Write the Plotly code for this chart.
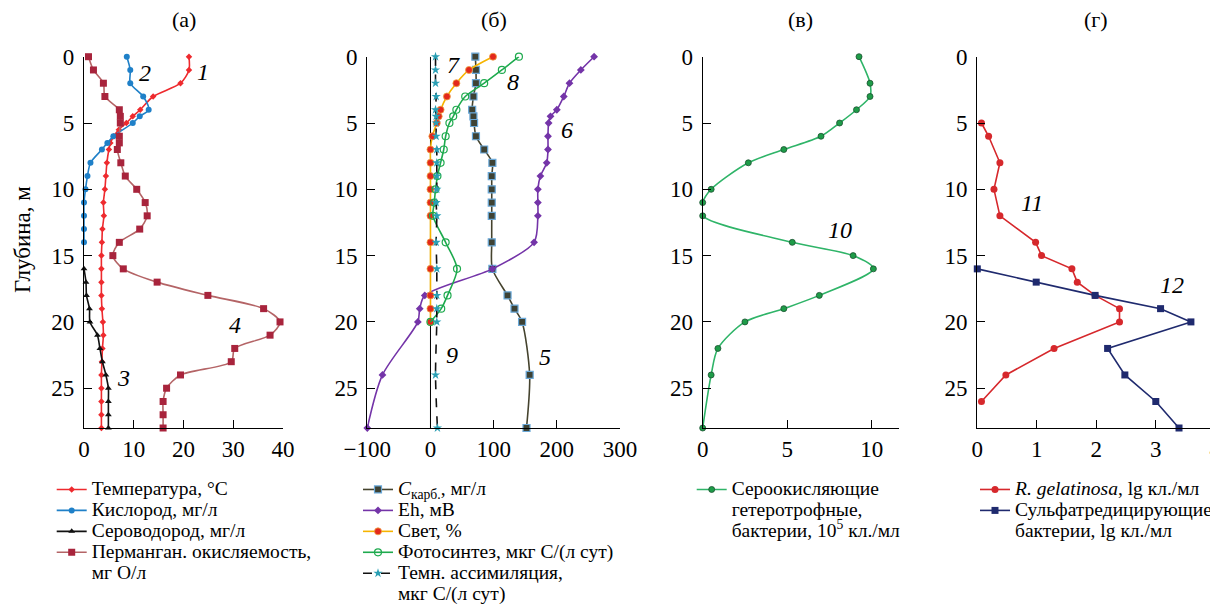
import plotly.graph_objects as go

# ---------------- data ----------------
# Panel (а)
temp_depth = [0, 1, 2, 3, 4, 4.5, 5, 5.5, 6, 6.5, 7, 8, 9, 10, 11, 12, 13, 14, 15, 16, 17, 18, 19, 20, 21, 22, 23, 24, 25, 26, 27, 28]
temp_val = [21.1, 21.1, 19.4, 13.9, 11.3, 9.8, 8.5, 7.0, 6.0, 5.3, 5.0, 4.6, 4.4, 4.2, 3.9, 4.0, 3.7, 3.6, 3.5, 3.5, 3.5, 3.5, 3.6, 3.8, 3.9, 3.7, 3.6, 3.5, 3.5, 3.5, 3.5, 3.5]

o2_depth = [0, 1, 2, 3, 4, 4.5, 5, 6, 6.5, 7, 8, 9, 10, 11, 12, 13, 14]
o2_val = [8.6, 9.3, 9.3, 11.9, 13.0, 11.2, 9.8, 5.9, 4.7, 3.6, 1.3, 0.7, 0.3, 0.0, 0.0, 0.0, 0.0]

h2s_depth = [16, 17, 18, 19, 20, 21, 22, 23, 24, 25, 26, 27, 28]
h2s_val = [0.0, 0.4, 0.5, 1.1, 1.2, 2.7, 3.2, 3.7, 4.4, 4.9, 4.9, 4.9, 4.9]

perm_depth = [0, 1, 2, 3, 4, 4.5, 5, 6, 6.5, 7, 8, 9, 10, 11, 12, 13, 14, 15, 16, 17, 18, 19, 20, 21, 22, 23, 24, 25, 26, 27, 28]
perm_val = [0.9, 1.9, 3.9, 4.2, 7.1, 7.3, 7.3, 7.1, 7.1, 6.7, 7.4, 8.3, 10.6, 12.3, 12.7, 11.2, 7.1, 5.8, 7.9, 14.7, 24.9, 36.1, 39.4, 37.4, 30.3, 29.6, 19.4, 16.6, 15.9, 15.9, 15.9]

# Panel (б)
ccarb_depth = [0, 1, 2, 3, 4, 4.5, 5, 6, 7, 8, 9, 10, 11, 12, 14, 16, 18, 19, 20, 24, 28]
ccarb_val = [71, 72, 72, 68, 66, 68, 69, 72, 85, 98, 97, 97, 97, 97, 97, 98, 122, 133, 145, 157, 152]

eh_depth = [0, 1, 2, 3, 4, 4.5, 5, 6, 7, 8, 9, 10, 11, 12, 14, 16, 18, 19, 20, 24, 28]
eh_val = [259, 238, 220, 211, 200, 190, 187, 186, 186, 184, 174, 170, 170, 170, 164, 98, -9, -17, -20, -76, -100]

light_depth = [0, 1, 2, 3, 4, 4.5, 5, 6, 7, 8, 9, 10, 11, 12, 14, 16, 18, 19, 20]
light_val = [99, 61, 41, 26, 16, 13, 10, 3, 0, 0, 0, 0, 0, 0, 0, 0, 0, 0, 0]

photo_depth = [0, 1, 2, 3, 4, 4.5, 5, 6, 7, 8, 9, 10, 11, 12, 14, 16, 18, 19, 20]
photo_val = [140, 113, 85, 55, 41, 36, 30, 24, 21, 16, 11, 8, 6, 4, 24, 42, 27, 17, 0]

dark_depth = [0, 1, 2, 3, 4, 4.5, 5, 6, 7, 8, 9, 10, 11, 12, 14, 16, 18, 19, 20, 24, 28]
dark_val = [8, 8, 8, 9, 8, 9, 9, 9, 10, 10, 10, 10, 9, 10, 9, 10, 10, 10, 10, 8, 11]

# Panel (в)
sox_depth = [0, 2, 3, 4, 5, 6, 7, 8, 10, 11, 12, 14, 15, 16, 18, 19, 20, 22, 24, 28]
sox_val = [9.25, 9.9, 9.9, 9.1, 8.1, 7.0, 4.8, 2.7, 0.5, 0.0, 0.0, 5.3, 8.9, 10.1, 6.9, 4.8, 2.5, 0.9, 0.5, 0.0]

# Panel (г)
rgel_depth = [5, 6, 8, 10, 12, 14, 15, 16, 17, 18, 19, 20, 22, 24, 26]
rgel_val = [0.07, 0.19, 0.38, 0.28, 0.38, 0.98, 1.08, 1.59, 1.68, 1.98, 2.39, 2.39, 1.29, 0.48, 0.07]

srb_depth = [16, 17, 18, 19, 20, 22, 24, 26, 28]
srb_val = [0.0, 0.99, 1.98, 3.08, 3.59, 2.19, 2.48, 3.0, 3.39]

panel_titles = ["(а)", "(б)", "(в)", "(г)"]
depth_ticks = [0, 5, 10, 15, 20, 25]

# ---------------- layout helpers ----------------
# the page body has an 8px margin; the figure is sized to fit the window
OFF = 8
W, H = 1218 - OFF, 604 - OFF
FONT = "Liberation Serif"
LEG_TXT = 19.5
TICK = 23


def px(x):
    return (x - OFF) / W


def py(y):
    return 1 - (y - OFF) / H


def lt(s):
    return f'<span style="font-size:{LEG_TXT}px">{s}</span>'


Y_TOP, Y_BOT = 56.7, 428.0
panels_px = [(84.0, 283.0), (367.3, 620.0), (702.7, 898.5), (977.3, 1215.3)]
xranges = [[0, 40], [-100, 300], [0, (898.5 - 702.7) / 16.9], [0, 4]]
xticks = [[0, 10, 20, 30, 40], [-100, 0, 100, 200, 300], [0, 5, 10], [0, 1, 2, 3, 4]]

fig = go.Figure()

SM = 0.8


def add(x, y, k, name, legend, line, marker, shape="spline", extra=()):
    fig.add_trace(go.Scatter(
        x=x, y=y, mode="lines+markers", name=lt(name),
        xaxis="x" if k == 1 else f"x{k}", yaxis="y" if k == 1 else f"y{k}",
        line=dict(shape=shape, smoothing=SM if shape == "spline" else None, **line),
        marker=marker, legend=legend, cliponaxis=False,
    ))
    # continuation lines of a wrapped legend label
    for s in extra:
        fig.add_trace(go.Scatter(
            x=[None], y=[None], mode="lines", name=lt(s),
            xaxis="x" if k == 1 else f"x{k}", yaxis="y" if k == 1 else f"y{k}",
            line=dict(color="rgba(0,0,0,0)", width=0), legend=legend, hoverinfo="skip",
        ))


# Panel (а)
add(temp_val, temp_depth, 1, "Температура, °C", "legend",
    dict(color="#ee2a2e", width=1.6), dict(symbol="diamond", size=5, color="#ee2a2e"))
add(o2_val, o2_depth, 1, "Кислород, мг/л", "legend",
    dict(color="#1f80c8", width=1.6), dict(symbol="circle", size=6, color="#1f80c8"))
add(h2s_val, h2s_depth, 1, "Сероводород, мг/л", "legend",
    dict(color="#111111", width=1.6), dict(symbol="triangle-up", size=6, color="#111111"))
add(perm_val, perm_depth, 1, "Перманган. окисляемость,", "legend",
    dict(color="#b46466", width=1.6), dict(symbol="square", size=7, color="#a8243c"),
    extra=("мг О/л",))

# Panel (б)
add(ccarb_val, ccarb_depth, 2, "<i>C</i><sub>карб.</sub>, мг/л", "legend2",
    dict(color="#45432e", width=1.6),
    dict(symbol="square", size=7, color="#3e4234", line=dict(color="#6aa8d8", width=1.2)))
add(eh_val, eh_depth, 2, "Eh, мВ", "legend2",
    dict(color="#7434a8", width=1.6), dict(symbol="diamond", size=6, color="#7434a8"))
add(light_val, light_depth, 2, "Свет, %", "legend2",
    dict(color="#f6b400", width=1.6),
    dict(symbol="circle", size=7, color="#e3281c", line=dict(color="#f0a040", width=0.8)))
add(photo_val, photo_depth, 2, "Фотосинтез, мкг С/(л сут)", "legend2",
    dict(color="#1eaa4e", width=1.6),
    dict(symbol="circle-open", size=7, color="#1eaa4e", line=dict(width=1.2)))
add(dark_val, dark_depth, 2, "Темн. ассимиляция,", "legend2",
    dict(color="#111111", width=1.6, dash="dash"),
    dict(symbol="star", size=7, color="#2a9fb4"), extra=("мкг С/(л сут)",))

# Panel (в)
add(sox_val, sox_depth, 3, "Сероокисляющие", "legend3",
    dict(color="#2fb468", width=1.6),
    dict(symbol="circle", size=6, color="#1e9c48", line=dict(color="#1b5030", width=0.8)),
    extra=("гетеротрофные,", "бактерии, 10<sup>5</sup> кл./мл"))

# Panel (г)
add(rgel_val, rgel_depth, 4, "<i>R. gelatinosa</i>, lg кл./мл", "legend4",
    dict(color="#d6282c", width=1.6), dict(symbol="circle", size=7, color="#d6282c"), shape="linear")
add(srb_val, srb_depth, 4, "Сульфатредицирующие", "legend4",
    dict(color="#1f2a6e", width=1.6), dict(symbol="square", size=7, color="#1f2a6e"), shape="linear",
    extra=("бактерии, lg кл./мл",))

layout = dict(
    width=W, height=H, margin=dict(l=0, r=0, t=0, b=0, pad=0, autoexpand=False),
    paper_bgcolor="white", plot_bgcolor="white", showlegend=True,
    font=dict(family=FONT, size=20, color="black"),
)

for i in range(4):
    k = i + 1
    xa = "xaxis" if k == 1 else f"xaxis{k}"
    ya = "yaxis" if k == 1 else f"yaxis{k}"
    x0, x1 = panels_px[i]
    layout[xa] = dict(
        domain=[px(x0), px(x1)], range=xranges[i], tickvals=xticks[i],
        anchor="y" if k == 1 else f"y{k}",
        showline=True, linecolor="black", linewidth=1.2, ticks="inside", ticklen=8,
        tickcolor="black", showgrid=False, zeroline=False, mirror=False,
        tickfont=dict(family=FONT, size=TICK), automargin=False, ticklabeloverflow="allow",
    )
    layout[ya] = dict(
        domain=[py(Y_BOT), py(Y_TOP)], range=[28, 0], tickvals=depth_ticks,
        anchor="x" if k == 1 else f"x{k}",
        showline=True, linecolor="black", linewidth=1.2, ticks="inside", ticklen=8,
        tickcolor="black", showgrid=False, zeroline=False, ticklabelstandoff=4,
        tickfont=dict(family=FONT, size=TICK), automargin=False, ticklabeloverflow="allow",
    )

leg_common = dict(font=dict(family=FONT, size=13.8, color="black"), bgcolor="rgba(0,0,0,0)",
                  xanchor="left", yanchor="top", valign="middle", tracegroupgap=0,
                  itemwidth=30)
LEG_Y = 474
layout["legend"] = dict(x=px(51.7), y=py(LEG_Y), **leg_common)
layout["legend2"] = dict(x=px(358), y=py(LEG_Y), **leg_common)
layout["legend3"] = dict(x=px(691.7), y=py(LEG_Y), **leg_common)
layout["legend4"] = dict(x=px(975), y=py(LEG_Y), **leg_common)

fig.update_layout(**layout)

# zero line in panel (б)
fig.add_shape(type="line", xref="x2", yref="y2", x0=0, x1=0, y0=0, y1=28,
              line=dict(color="black", width=1), layer="below")

# panel titles
for i, t in enumerate(panel_titles):
    x0, x1 = panels_px[i]
    fig.add_annotation(text=t, xref="paper", yref="paper", x=px((x0 + x1) / 2 if i != 1 else 494),
                       y=py(20), xanchor="center", yanchor="middle",
                       showarrow=False, font=dict(family=FONT, size=22))

fig.add_annotation(text="Глубина, м", xref="paper", yref="paper", x=px(22), y=py(240),
                   xanchor="center", yanchor="middle",
                   textangle=-90, showarrow=False, font=dict(family=FONT, size=23))

# curve numbers
labels = [("1", 203, 72), ("2", 145, 73), ("3", 123, 378), ("4", 235, 325),
          ("5", 545, 357), ("6", 567, 130), ("7", 453, 65), ("8", 513, 82), ("9", 452, 355),
          ("10", 840, 230), ("11", 1032, 203), ("12", 1172, 285)]
for t, x, y in labels:
    fig.add_annotation(text=f"<i>{t}</i>", xref="paper", yref="paper", x=px(x), y=py(y),
                       xanchor="center", yanchor="middle",
                       showarrow=False, font=dict(family=FONT, size=24))

fig.write_html("out.html")
